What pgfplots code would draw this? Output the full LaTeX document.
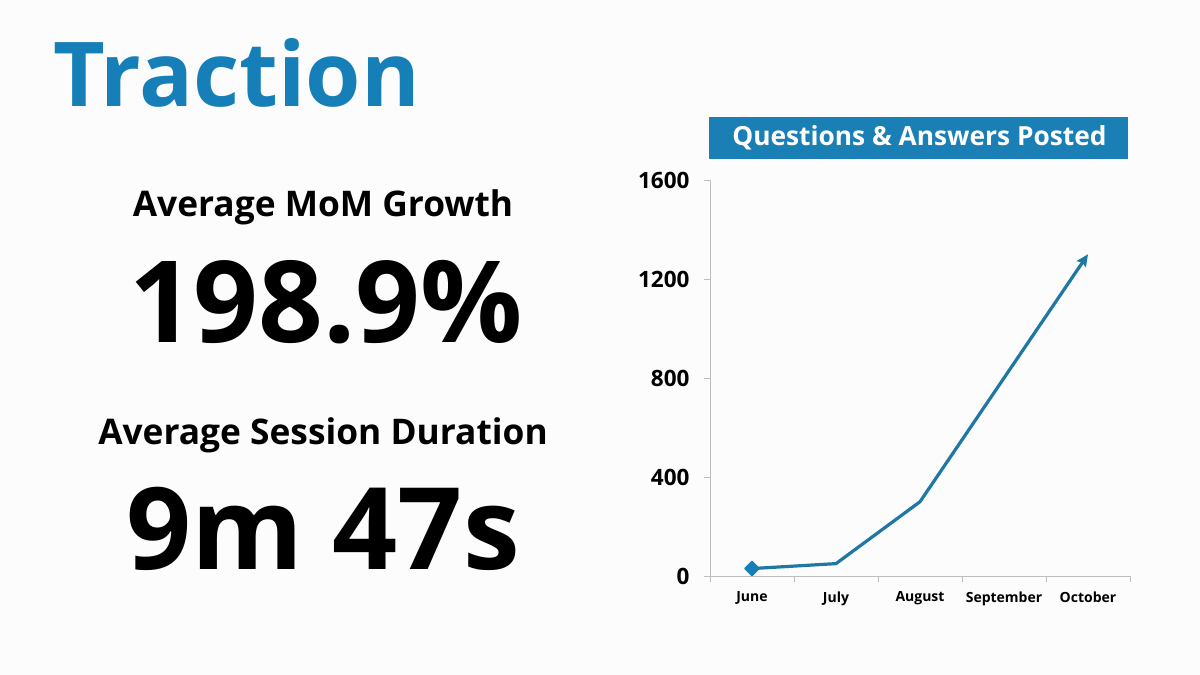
\documentclass[border=0pt]{standalone}
\usepackage{pgfplots}
\pgfplotsset{compat=1.18}
\usetikzlibrary{arrows.meta}
\usepackage{fontspec}
\setmainfont{Open Sans}

\definecolor{titleblue}{RGB}{22,127,184}
\definecolor{boxblue}{RGB}{26,127,180}
\definecolor{lineblue}{RGB}{30,120,163}
\definecolor{axisgray}{RGB}{190,190,190}
\definecolor{bggray}{RGB}{252,252,252}

\newcommand{\fs}[1]{\fontsize{#1bp}{#1bp}\selectfont}

\begin{document}
\begin{tikzpicture}[x=1bp,y=1bp]
    % canvas, in pixels of the reference (y counted up from the bottom)
    \fill[bggray] (0,0) rectangle (1200,675);
    \useasboundingbox (0,0) rectangle (1200,675);
    \coordinate (axpos) at (710,99);

    % left side texts
    \node[anchor=base west, inner sep=0, text=titleblue, font=\bfseries\fs{89.5}] at (53,568) {Traction};
    \node[anchor=base, inner sep=0, font=\bfseries\fs{35.3}] at (323,458) {Average MoM Growth};
    \node[anchor=base, inner sep=0, font=\bfseries\fs{113.5}] at (326,332) {198.9\%};
    \node[anchor=base, inner sep=0, font=\bfseries\fs{35.3}] at (323,230) {Average Session Duration};
    \node[anchor=base, inner sep=0, font=\bfseries\fs{114}] at (323,105) {9m 47s};

    % chart title box
    \fill[boxblue] (709,516) rectangle (1128,558);
    \node[anchor=base, inner sep=0, text=white, font=\bfseries\fs{26.3}] at (919.5,529) {Questions \& Answers Posted};

    \begin{axis}[
            at={(axpos)},
            anchor=south west,
            scale only axis,
            width=420bp,
            height=396bp,
            axis lines*=left,
            axis line style={axisgray, line width=0.8bp},
            xmin=-0.5, xmax=4.5,
            ymin=0, ymax=1600,
            clip=false,
            tick align=outside,
            tick pos=left,
            % month names under the categories, ticks between them
            xtick={0,1,2,3,4},
            xticklabels={June,July,August,September,October},
            major x tick style={draw=none},
            minor xtick={-0.5,0.5,1.5,2.5,3.5,4.5},
            minor x tick style={axisgray, line width=0.8bp},
            minor tick length=6bp,
            ytick={0,400,800,1200,1600},
            y tick style={axisgray, line width=0.8bp},
            major tick length=6bp,
            /pgf/number format/assume math mode=true,
            /pgf/number format/1000 sep={},
            yticklabel style={font=\bfseries\fs{22.5}, text=black, xshift=-11bp},
            xticklabel style={font=\bfseries\fs{14}, text=black, yshift=-6bp},
        ]
        \addplot[lineblue, line width=3.2bp,
            -{Stealth[length=12bp, width=11bp, inset=2bp]},
            mark=square*, mark indices={1},
            mark options={fill=titleblue, draw=titleblue, solid, rotate=45,
                line width=1.5bp, line join=round},
            mark size=5bp]
        coordinates {
                (0,30)
                (1,50)
                (2,300)
                (3,800)
                (4,1300)
            };
    \end{axis}
\end{tikzpicture}
\end{document}
